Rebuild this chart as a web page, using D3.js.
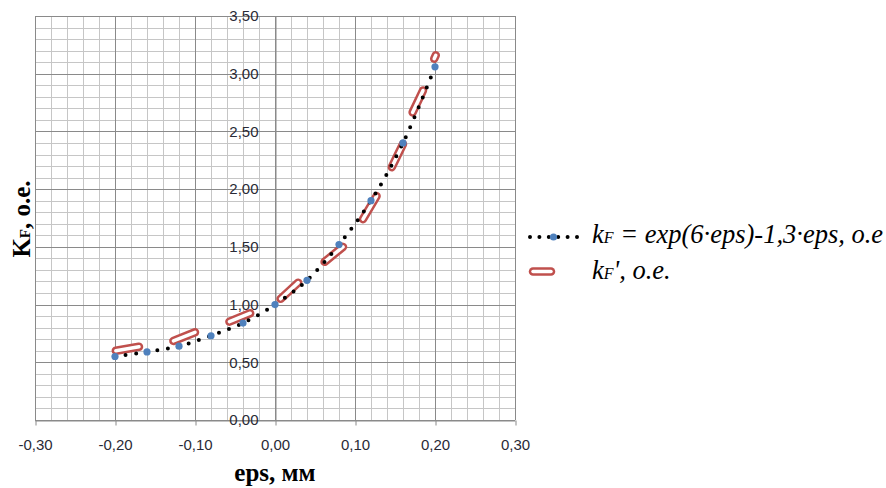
<!DOCTYPE html>
<html>
<head>
<meta charset="utf-8">
<script src="https://cdn.jsdelivr.net/npm/d3@7/dist/d3.min.js"></script>
<style>
  html, body { margin: 0; padding: 0; background: #ffffff; }
  svg { display: block; }
</style>
</head>
<body>
<svg id="chart" width="886" height="488"></svg>
<script>
// kF = exp(6·eps) - 1,3·eps, sampled every 0.04 mm
const epsValues = [-0.20, -0.16, -0.12, -0.08, -0.04, 0.00, 0.04, 0.08, 0.12, 0.16, 0.20];
const kfValues  = [0.55, 0.59, 0.64, 0.73, 0.84, 1.00, 1.21, 1.52, 1.90, 2.40, 3.06];

// kF' measured pieces: start/end eps and start/end value
const kfPrimeEps = [[-0.199, -0.170], [-0.127, -0.100], [-0.057, -0.031], [0.007, 0.029],
                    [0.062, 0.085], [0.110, 0.127], [0.146, 0.160], [0.172, 0.185], [0.199, 0.201]];
const kfPrimeVal = [[0.60, 0.635], [0.685, 0.76], [0.852, 0.925], [1.05, 1.19],
                    [1.37, 1.50], [1.74, 1.94], [2.19, 2.39], [2.665, 2.855], [3.13, 3.16]];

// axis ticks
const xTicks = [-0.30, -0.20, -0.10, 0.00, 0.10, 0.20, 0.30];
const yTicks = [0.00, 0.50, 1.00, 1.50, 2.00, 2.50, 3.00, 3.50];

const svg = d3.select("#chart");
const x = d3.scaleLinear().domain([-0.30, 0.30]).range([35, 515]);
const y = d3.scaleLinear().domain([0, 3.50]).range([420, 16]);
const fmt = v => v.toFixed(2).replace(".", ",");

const grid = svg.append("g");
// minor grid
const xMinor = d3.range(-0.30, 0.3001, 0.02).filter(v => Math.abs(Math.round(v * 100) % 10) !== 0);
const yMinor = d3.range(0, 3.5001, 0.1).filter(v => Math.abs(Math.round(v * 10) % 5) !== 0);
grid.selectAll("line.xm").data(xMinor).join("line")
  .attr("x1", d => Math.round(x(d)) + 0.5).attr("x2", d => Math.round(x(d)) + 0.5)
  .attr("y1", y(0)).attr("y2", y(3.5))
  .attr("stroke", "#c6c6c6").attr("stroke-width", 1);
grid.selectAll("line.ym").data(yMinor).join("line")
  .attr("y1", d => Math.round(y(d)) + 0.5).attr("y2", d => Math.round(y(d)) + 0.5)
  .attr("x1", x(-0.3)).attr("x2", x(0.3))
  .attr("stroke", "#c6c6c6").attr("stroke-width", 1);
// major grid
grid.selectAll("line.xM").data(xTicks).join("line")
  .attr("x1", d => Math.round(x(d)) + 0.5).attr("x2", d => Math.round(x(d)) + 0.5)
  .attr("y1", y(0)).attr("y2", y(3.5))
  .attr("stroke", "#8a8a8a").attr("stroke-width", 1);
grid.selectAll("line.yM").data(yTicks).join("line")
  .attr("y1", d => Math.round(y(d)) + 0.5).attr("y2", d => Math.round(y(d)) + 0.5)
  .attr("x1", x(-0.3)).attr("x2", x(0.3))
  .attr("stroke", "#8a8a8a").attr("stroke-width", 1);

// x axis along kF = 0
const xAxis = d3.axisBottom(x).tickValues(xTicks).tickFormat(fmt).tickSizeInner(5).tickSizeOuter(0).tickPadding(14);
const gx = svg.append("g").attr("transform", `translate(0,${Math.round(y(0)) + 0.5})`).call(xAxis);
gx.select(".domain").attr("stroke", "#8a8a8a");
gx.selectAll(".tick line").attr("stroke", "#8a8a8a").attr("transform", "translate(0.5,0)");
gx.selectAll("text").attr("font-family", "'Liberation Sans', Arial, sans-serif")
  .attr("font-size", 15).attr("fill", "#2a2a36");

// y axis along eps = 0
const yAxis = d3.axisLeft(y).tickValues(yTicks).tickFormat(fmt).tickSizeInner(0).tickSizeOuter(0).tickPadding(17);
const gy = svg.append("g").attr("transform", `translate(${Math.round(x(0)) + 0.5},0)`).call(yAxis);
gy.select(".domain").attr("stroke", "#8a8a8a");
gy.selectAll("text").attr("font-family", "'Liberation Sans', Arial, sans-serif")
  .attr("font-size", 15).attr("fill", "#2a2a36");

// kF' pieces: red double outline
const segs = kfPrimeEps.map((e, i) => [[e[0], kfPrimeVal[i][0]], [e[1], kfPrimeVal[i][1]]]);
const segLine = d3.line().x(d => x(d[0])).y(d => y(d[1]));
const red = svg.append("g");
red.selectAll("path.outer").data(segs).join("path")
  .attr("d", segLine).attr("fill", "none")
  .attr("stroke", "#c0504d").attr("stroke-width", 8.5).attr("stroke-linecap", "round");
red.selectAll("path.inner").data(segs).join("path")
  .attr("d", segLine).attr("fill", "none")
  .attr("stroke", "#ffffff").attr("stroke-width", 3.5).attr("stroke-linecap", "round");

// kF curve: smoothed round-dot line with markers
const pts = epsValues.map((e, i) => [e, kfValues[i]]);
const curve = d3.line().x(d => x(d[0])).y(d => y(d[1])).curve(d3.curveCatmullRom.alpha(0.5));
svg.append("path").attr("d", curve(pts)).attr("fill", "none")
  .attr("stroke", "#000000").attr("stroke-width", 4)
  .attr("stroke-linecap", "round").attr("stroke-dasharray", "0 10.7");
svg.append("g").selectAll("circle").data(pts).join("circle")
  .attr("cx", d => x(d[0])).attr("cy", d => y(d[1])).attr("r", 3.6)
  .attr("fill", "#4f81bd");

// axis titles
const yt = svg.append("text")
  .attr("transform", "translate(30,219) rotate(-90)")
  .attr("text-anchor", "middle")
  .attr("font-family", "'Liberation Serif', 'Times New Roman', serif")
  .attr("font-weight", "bold").attr("font-size", 25).attr("fill", "#000");
yt.append("tspan").text("K");
yt.append("tspan").attr("font-size", 15).text("F");
yt.append("tspan").text(", o.e.");

svg.append("text")
  .attr("x", 275).attr("y", 481)
  .attr("text-anchor", "middle")
  .attr("font-family", "'Liberation Serif', 'Times New Roman', serif")
  .attr("font-weight", "bold").attr("font-size", 25).attr("fill", "#000")
  .text("eps, мм");

// legend
const lg = svg.append("g");
const lgFont = "'Liberation Serif', 'Times New Roman', serif";
lg.append("line").attr("x1", 530).attr("x2", 577).attr("y1", 237).attr("y2", 237)
  .attr("stroke", "#000").attr("stroke-width", 4).attr("stroke-linecap", "round")
  .attr("stroke-dasharray", "0 9.4");
lg.append("circle").attr("cx", 553.5).attr("cy", 237).attr("r", 3.6).attr("fill", "#4f81bd");
lg.append("line").attr("x1", 533).attr("x2", 551).attr("y1", 271.5).attr("y2", 271.5)
  .attr("stroke", "#c0504d").attr("stroke-width", 8.5).attr("stroke-linecap", "round");
lg.append("line").attr("x1", 533).attr("x2", 551).attr("y1", 271.5).attr("y2", 271.5)
  .attr("stroke", "#fff").attr("stroke-width", 3.5).attr("stroke-linecap", "round");

const t1 = lg.append("text").attr("x", 592).attr("y", 243)
  .attr("font-family", lgFont).attr("font-style", "italic").attr("font-size", 26.5).attr("fill", "#000");
t1.append("tspan").text("k");
t1.append("tspan").attr("font-size", 16).text("F");
t1.append("tspan").text(" = exp(6·eps)-1,3·eps, o.e");

const t2 = lg.append("text").attr("x", 592).attr("y", 279)
  .attr("font-family", lgFont).attr("font-style", "italic").attr("font-size", 26.5).attr("fill", "#000");
t2.append("tspan").text("k");
t2.append("tspan").attr("font-size", 16).text("F");
t2.append("tspan").text("', o.e.");
</script>
</body>
</html>
